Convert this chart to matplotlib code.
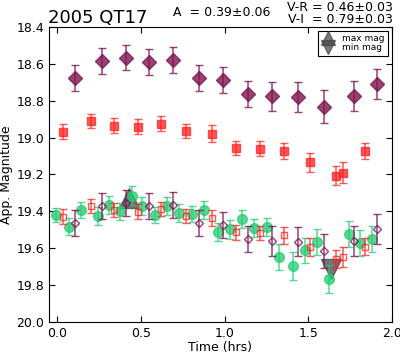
import matplotlib
matplotlib.use('Agg')
import matplotlib.pyplot as plt
from matplotlib.lines import Line2D

# V (filled diamonds), R (filled squares) and shifted points
t_v = [0.108, 0.268, 0.413, 0.547, 0.690, 0.844, 0.992, 1.140, 1.281, 1.439, 1.591, 1.774, 1.908]
mag_v = [18.675, 18.584, 18.566, 18.588, 18.579, 18.675, 18.687, 18.765, 18.776, 18.780, 18.832, 18.774, 18.709]
err_v = [0.07, 0.07, 0.07, 0.07, 0.07, 0.07, 0.07, 0.07, 0.08, 0.08, 0.09, 0.08, 0.08]
mag_v_shift = [19.462, 19.371, 19.353, 19.371, 19.366, 19.462, 19.474, 19.551, 19.560, 19.564, 19.615, 19.560, 19.497]

t_r = [0.032, 0.202, 0.341, 0.481, 0.621, 0.766, 0.926, 1.070, 1.210, 1.357, 1.511, 1.663, 1.705, 1.840]
mag_r = [18.968, 18.910, 18.935, 18.941, 18.924, 18.964, 18.979, 19.056, 19.060, 19.073, 19.134, 19.206, 19.190, 19.073]
err_r = [0.04, 0.04, 0.04, 0.04, 0.04, 0.04, 0.045, 0.04, 0.04, 0.045, 0.05, 0.05, 0.055, 0.045]
mag_r_shift = [19.429, 19.371, 19.392, 19.401, 19.387, 19.425, 19.437, 19.513, 19.517, 19.530, 19.593, 19.657, 19.649, 19.591]

t_i = [-0.006, 0.072, 0.144, 0.241, 0.307, 0.377, 0.447, 0.507, 0.583, 0.653, 0.726, 0.807, 0.876,
       0.961, 1.030, 1.106, 1.175, 1.251, 1.325, 1.409, 1.479, 1.551, 1.625, 1.741, 1.810, 1.878]
mag_i = [19.420, 19.483, 19.392, 19.425, 19.365, 19.400, 19.315, 19.371, 19.420, 19.371, 19.410, 19.415, 19.392,
         19.513, 19.498, 19.440, 19.489, 19.484, 19.649, 19.698, 19.612, 19.567, 19.766, 19.521, 19.570, 19.549]
err_i = [0.04, 0.045, 0.045, 0.05, 0.05, 0.045, 0.05, 0.05, 0.045, 0.05, 0.05, 0.045, 0.05,
         0.05, 0.05, 0.05, 0.05, 0.05, 0.07, 0.075, 0.07, 0.07, 0.075, 0.07, 0.07, 0.07]

t_max, mag_max = 0.427, 19.33
t_min, mag_min = 1.635, 19.71

purple = '#7d1450'
red = '#ff2020'
green = '#22cc70'

fig = plt.figure(figsize=(4.0, 3.55), dpi=100)
ax = fig.add_axes([0.1225, 0.093, 0.8575, 0.831])

ax.errorbar(t_v, mag_v, yerr=err_v, fmt='D', color=purple, ms=7, mec=purple, alpha=0.8,
            ecolor=purple, elinewidth=1.1, capsize=3, zorder=3)
ax.errorbar(t_r, mag_r, yerr=err_r, fmt='s', color=red, ms=6, mec=red, alpha=0.75,
            ecolor=red, elinewidth=1.1, capsize=3, zorder=3)

ax.plot(t_max, mag_max, '^', color='#444444', ms=14, alpha=0.75, mec='#444444', zorder=2)
ax.plot(t_min, mag_min, 'v', color='#444444', ms=14, alpha=0.75, mec='#444444', zorder=2)

ax.errorbar(t_i, mag_i, yerr=err_i, fmt='o', color=green, ms=7, mec=green, alpha=0.75,
            ecolor=green, elinewidth=1.1, capsize=3, zorder=3)
ax.errorbar(t_r, mag_r_shift, yerr=err_r, fmt='s', mfc='none', mec=red, ms=4.5, mew=1, alpha=0.75,
            ecolor=red, elinewidth=1.1, capsize=3, zorder=4)
ax.errorbar(t_v, mag_v_shift, yerr=err_v, fmt='D', mfc='none', mec=purple, ms=4.5, mew=1, alpha=0.8,
            ecolor=purple, elinewidth=1.1, capsize=3, zorder=4)

ax.set_xlim(-0.05, 2.0)
ax.set_ylim(20.0, 18.4)
ax.set_xticks([0.0, 0.5, 1.0, 1.5, 2.0])
ax.set_yticks([18.4, 18.6, 18.8, 19.0, 19.2, 19.4, 19.6, 19.8, 20.0])
ax.tick_params(direction='in', top=True, right=True, labelsize=9, length=4)
ax.set_xlabel('Time (hrs)', fontsize=9, labelpad=1)
ax.set_ylabel('App. Magnitude', fontsize=9, labelpad=2)

handles = [Line2D([], [], ls='none', marker='^', color='#444444', ms=10, alpha=0.7),
           Line2D([], [], ls='none', marker='v', color='#444444', ms=10, alpha=0.7)]
leg = ax.legend(handles, ['max mag', 'min mag'], loc='upper right', fontsize=6.5,
                labelspacing=0.0, handletextpad=0.8, borderpad=0.4, fancybox=False,
                framealpha=1, edgecolor='black', handlelength=1.5, borderaxespad=0.4)
leg.get_frame().set_linewidth(0.8)

fig.text(0.12, 0.935, '2005 QT17', fontsize=13, ha='left', va='baseline')
fig.text(0.555, 0.955, 'A  = 0.39\u00b10.06', fontsize=9, ha='center', va='baseline')
fig.text(0.983, 0.970, 'V-R = 0.46\u00b10.03', fontsize=9, ha='right', va='baseline')
fig.text(0.983, 0.935, 'V-I  = 0.79\u00b10.03', fontsize=9, ha='right', va='baseline')

fig.savefig('out.png', dpi=100)
